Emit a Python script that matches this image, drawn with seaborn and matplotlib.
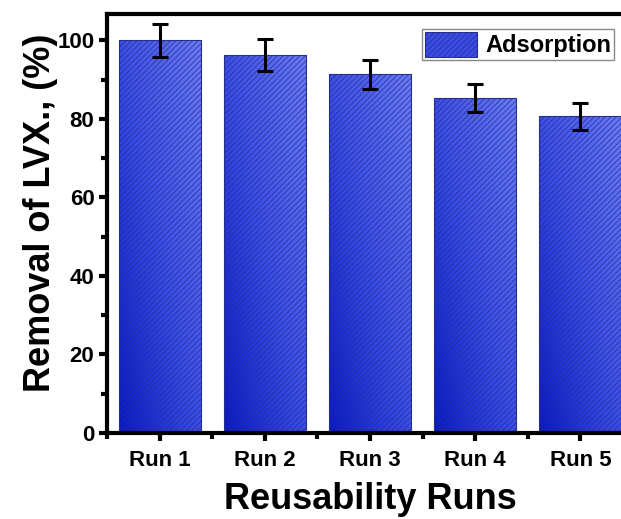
import numpy as np
import pandas as pd
import matplotlib
matplotlib.use("Agg")
import matplotlib.pyplot as plt
import seaborn as sns
from matplotlib.patches import Patch
from matplotlib.colors import LinearSegmentedColormap
from matplotlib.ticker import MultipleLocator

runs = ["Run 1", "Run 2", "Run 3", "Run 4", "Run 5"]
removal = [100.0, 96.3, 91.3, 85.3, 80.6]
errors = [4.2, 4.0, 3.8, 3.5, 3.4]
legend_label = "Adsorption"

sns.set_theme(style="ticks")
plt.rcParams["font.family"] = ["Liberation Sans", "DejaVu Sans"]
plt.rcParams["font.weight"] = "bold"
plt.rcParams["hatch.linewidth"] = 0.5
for k in ["text.color", "axes.labelcolor", "xtick.color", "ytick.color", "axes.edgecolor"]:
    plt.rcParams[k] = "black"

df = pd.DataFrame({"run": runs, "removal": removal})

W, H = 621, 519
fig = plt.figure(figsize=(W / 100, H / 100), dpi=100)
ax = fig.add_axes([107 / W, (H - 433) / H, (633 - 107) / W, (433 - 14) / H])

sns.barplot(data=df, x="run", y="removal", ax=ax, width=0.78,
            color="#4455e6", edgecolor="#26308a", linewidth=0.8,
            hatch="//////", errorbar=None)

cmap = LinearSegmentedColormap.from_list("g", ["#0818c6", "#3c4ee8", "#6a7af6"])
grad = np.add.outer(np.linspace(0, 1, 64), np.linspace(0, 1, 64)) / 2.0

for p in ax.patches:
    x0, y0 = p.get_x(), p.get_y()
    w, h = p.get_width(), p.get_height()
    im = ax.imshow(grad, cmap=cmap, origin="lower", extent=[x0, x0 + w, y0, y0 + h],
                   aspect="auto", zorder=1, interpolation="bilinear")
    im.set_clip_path(p)
    p.set_facecolor("none")
    p.set_zorder(2)

centers = [p.get_x() + p.get_width() / 2 for p in ax.patches]
ax.errorbar(centers, removal, yerr=errors, fmt="none", ecolor="black",
            elinewidth=2.2, capsize=6, capthick=2.2, zorder=3)

ax.set_xlim(-0.5, 4.5)
ax.set_ylim(0, 106.7)
ax.set_aspect("auto")
ax.yaxis.set_major_locator(MultipleLocator(20))
ax.yaxis.set_minor_locator(MultipleLocator(10))
ax.set_xticks(range(5), minor=False)
ax.set_xticks([x + 0.5 for x in range(-1, 5)], minor=True)

for s in ax.spines.values():
    s.set_linewidth(3.0)
    s.set_color("black")
    s.set_visible(True)

ax.tick_params(axis="both", which="major", direction="out", length=6, width=3,
               color="black", labelsize=16, labelcolor="black")
ax.tick_params(axis="both", which="minor", direction="out", length=4, width=3,
               color="black")
ax.tick_params(axis="x", pad=6)
ax.tick_params(axis="y", pad=3)
for t in ax.get_xticklabels() + ax.get_yticklabels():
    t.set_fontweight("bold")

ax.set_xlabel("Reusability Runs", fontsize=26, fontweight="bold", color="black")
ax.set_ylabel("Removal of LVX., (%)", fontsize=26, fontweight="bold", color="black")
ax.xaxis.set_label_coords(0.5, -(482 - 433) / 419)
ax.yaxis.set_label_coords(-(107 - 58) / 526, (433 - 213) / 419)

handle = Patch(facecolor="#3a4be6", edgecolor="#26308a", hatch="//////", linewidth=0.8)
leg = ax.legend(handles=[handle], labels=[legend_label], loc="upper right",
                bbox_to_anchor=((614 - 107) / 526, (433 - 29) / 419),
                borderaxespad=0, fancybox=False, framealpha=1, edgecolor="#888888",
                prop={"weight": "bold", "size": 17}, handlelength=2.2,
                handleheight=1.25, handletextpad=0.35, borderpad=0.12)
leg.get_frame().set_linewidth(1.0)
for t in leg.get_texts():
    t.set_color("black")

fig.savefig("out.png", dpi=100)
